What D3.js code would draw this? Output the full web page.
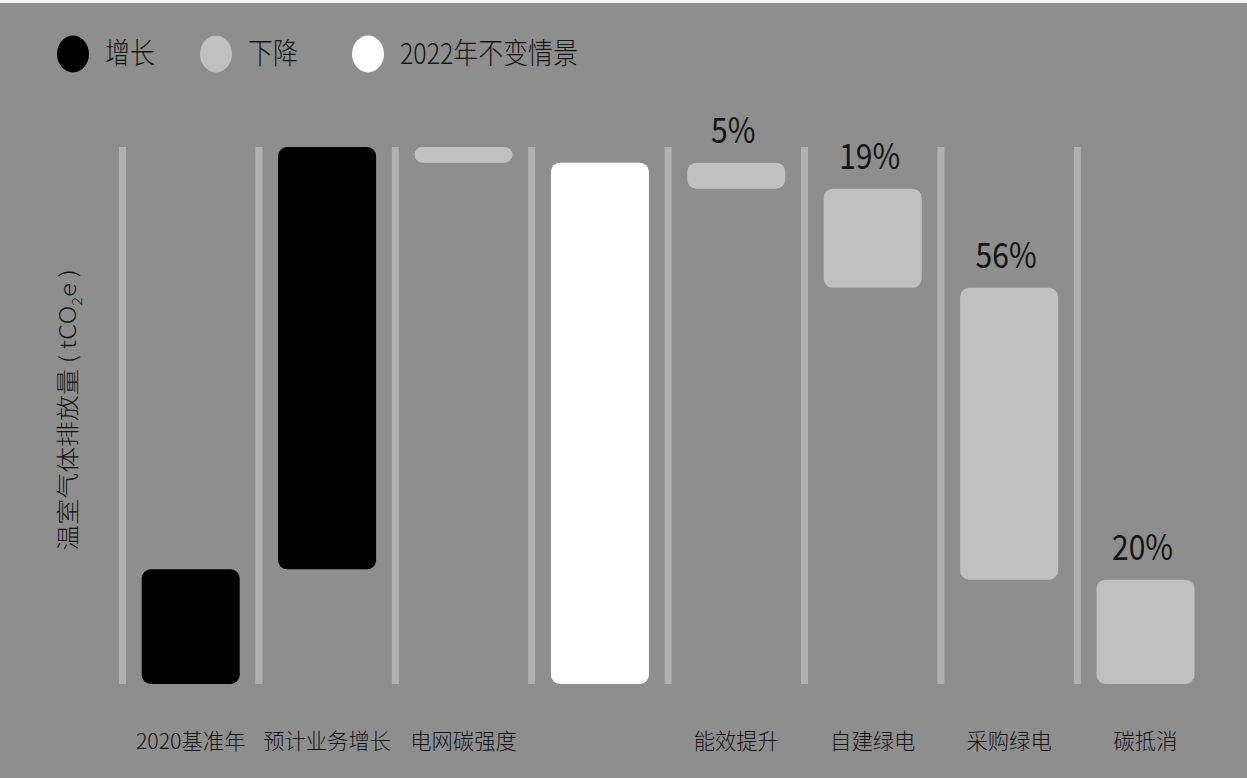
<!DOCTYPE html>
<html>
<head>
<meta charset="utf-8">
<script src="https://cdn.jsdelivr.net/npm/d3@7"></script>
<style>
  html, body { margin: 0; padding: 0; background: #8e8e8e; }
  svg { display: block; }
  text { font-family: "Noto Sans CJK SC", "Noto Sans", sans-serif; font-weight: 300; fill: #141414; }
</style>
</head>
<body>
<script>
// Waterfall steps, in tCO2e (relative units, 2022 unchanged scenario = 100)
const categories = ["2020基准年", "预计业务增长", "电网碳强度", "2022年不变情景", "能效提升", "自建绿电", "采购绿电", "碳抵消"];
const tickLabels = ["2020基准年", "预计业务增长", "电网碳强度", "", "能效提升", "自建绿电", "采购绿电", "碳抵消"];
const stepTypes = ["increase", "increase", "decrease", "total", "decrease", "decrease", "decrease", "decrease"];
const changes = [22, 81, -3, null, -5, -19, -56, -20];
// Share of the 2022 unchanged scenario removed by each measure
const reductionPct = [null, null, null, null, 5, 19, 56, 20];

const legendLabels = ["增长", "下降", "2022年不变情景"];
const legendTypes = ["increase", "decrease", "total"];

const colors = { increase: "#000000", decrease: "#c0c0c0", total: "#ffffff" };

const W = 1247, H = 778;
const svg = d3.select("body").append("svg").attr("width", W).attr("height", H);

svg.append("rect").attr("x", 0).attr("y", 0).attr("width", W).attr("height", H).attr("fill", "#8e8e8e");
svg.append("rect").attr("x", 0).attr("y", 0).attr("width", W).attr("height", 3).attr("fill", "#f2f2f2");

// running totals for each step
let running = 0;
const steps = categories.map((c, i) => {
  let start, end;
  if (stepTypes[i] === "total") {
    start = 0; end = running;
  } else {
    start = running; end = running + changes[i];
    running = end;
  }
  return { cat: c, type: stepTypes[i], lo: Math.min(start, end), hi: Math.max(start, end), pct: reductionPct[i] };
});
const peak = d3.max(steps, d => d.hi);

const x = d3.scaleBand().domain(categories).range([122.5, 1213.7]).paddingInner(0).paddingOuter(0);
const y = d3.scaleLinear().domain([0, peak]).range([684, 147]);
const barW = 98;

// column separators
svg.append("g").selectAll("rect").data(categories).join("rect")
  .attr("x", d => x(d) - 3.5)
  .attr("y", y(peak))
  .attr("width", 7)
  .attr("height", y(0) - y(peak))
  .attr("fill", "#b1b1b1");

// bars
svg.append("g").selectAll("rect").data(steps).join("rect")
  .attr("x", d => x(d.cat) + (x.bandwidth() - barW) / 2)
  .attr("y", d => y(d.hi))
  .attr("width", barW)
  .attr("height", d => y(d.lo) - y(d.hi))
  .attr("rx", d => Math.min(9, (y(d.lo) - y(d.hi)) / 2))
  .attr("fill", d => colors[d.type]);

// reduction percentages
svg.append("g").selectAll("text").data(steps.filter(d => d.pct != null)).join("text")
  .attr("transform", d => `translate(${x(d.cat) + x.bandwidth() / 2 - 3},${y(d.hi) - 20}) scale(0.86,1)`)
  .attr("text-anchor", "middle")
  .style("font-size", "35px")
  .style("font-weight", 400)
  .text(d => d.pct + "%");

// category axis
const axis = svg.append("g")
  .attr("transform", `translate(0,${y(0)})`)
  .call(d3.axisBottom(x).tickSize(0).tickFormat((d, i) => tickLabels[i]));
axis.select(".domain").remove();
axis.selectAll("text")
  .attr("y", 65)
  .attr("dy", 0)
  .attr("transform", "scale(0.97,1)")
  .style("font-size", "22px")
  .style("font-family", "\"Noto Sans CJK SC\", sans-serif")
  .style("font-weight", 300)
  .attr("fill", "#141414");

// y-axis title
const title = svg.append("text")
  .attr("transform", "translate(76,410) rotate(-90) scale(1,0.86)")
  .attr("text-anchor", "middle")
  .style("font-size", "26px");
title.append("tspan").text("温室气体排放量 ( tCO");
title.append("tspan").attr("dy", 7).style("font-size", "16px").text("2");
title.append("tspan").attr("dy", -7).text("e )");

// legend
const legendX = [73, 216, 368];
const legend = svg.append("g").selectAll("g").data(legendLabels).join("g")
  .attr("transform", (d, i) => `translate(${legendX[i]},54)`);
legend.append("ellipse")
  .attr("rx", 16).attr("ry", 18.5)
  .attr("fill", (d, i) => colors[legendTypes[i]]);
legend.append("text")
  .attr("transform", "translate(32,10) scale(0.86,1)")
  .style("font-size", "29px")
  .text(d => d);
</script>
</body>
</html>
